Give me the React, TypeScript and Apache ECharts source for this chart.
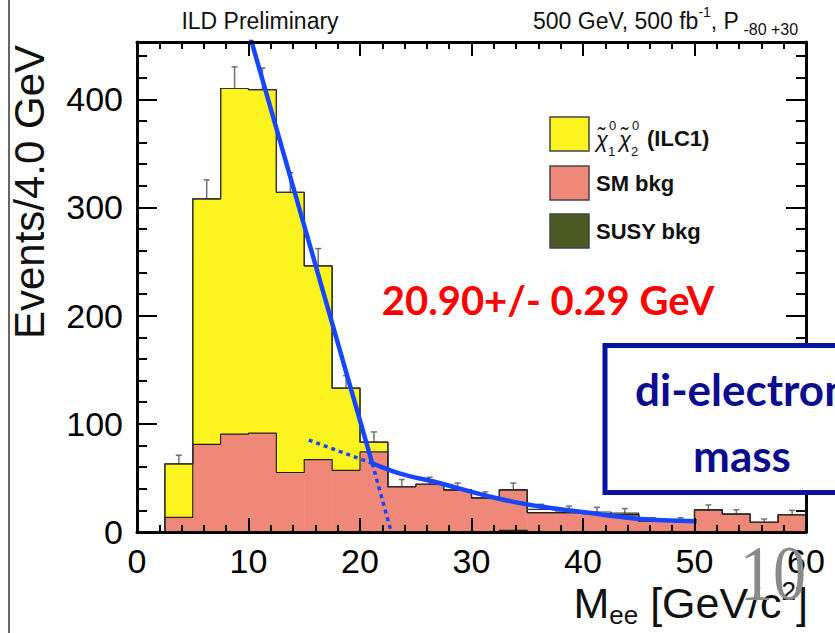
import React, { useEffect, useRef } from 'react';
import * as echarts from 'echarts';

// ---------------- data ----------------
const binLow = [2.5, 5, 7.5, 10, 12.5, 15, 17.5, 20, 22.5, 25, 27.5, 30, 32.5, 35, 37.5, 40, 42.5, 45, 47.5, 50, 52.5, 55, 57.5];
const binWidth = 2.5;
const susyBkg = [0, 0, 0, 0, 0, 0, 0, 0, 0, 0, 0, 0, 1.5, 0, 0, 0, 0, 0, 0, 0, 0, 0, 0];
const smBkg = [13.5, 81, 90.5, 91.5, 55, 67, 57, 74, 42, 44, 39, 31.5, 37.5, 18, 18, 17, 16, 10, 10, 20.5, 16.5, 9, 16];
const signal = [49.5, 227, 319.5, 317.5, 259, 179, 76, 9, 0, 0, 0, 0, 0, 0, 0, 0, 0, 0, 0, 0, 0, 0, 0];
const dataCounts = [63, 308, 410, 409, 314, 246, 133, 83, 42, 44, 39, 31.5, 39, 21, 19.5, 18.5, 17.5, 10, 10, 20.5, 16.5, 9, 16];
const dataErrors = [8, 17.5, 20, 20, 18, 16, 11.5, 9.5, 6.5, 6.6, 6.2, 5.6, 6.2, 4.6, 4.4, 4.3, 4.2, 3.2, 3.2, 4.5, 4.1, 3, 4];

// fit lines
const fitSigX = [10.2, 21.1];
const fitSigY = [456, 63.5];
const fitSigExtX = [21.1, 22.8];
const fitSigExtY = [63.5, 0];
const fitBkgX = [21.1, 23.6, 27, 31.7, 35.3, 40.7, 45.2, 50.2];
const fitBkgY = [63.5, 54, 45.5, 32.6, 25, 17.5, 12, 10];
const fitBkgExtX = [15.4, 21.1];
const fitBkgExtY = [85, 63.5];

// axes
const xMin = 0, xMax = 60, xMajor = 10, xMinor = 2;
const yMin = 0, yMax = 453, yMajor = 100, yMinor = 20;

// labels
const yTitle = 'Events/4.0 GeV';
const legendLabels = ['SM bkg', 'SUSY bkg'];
const fitResult = '20.90+/- 0.29 GeV';

// colors
const C_SIGNAL = '#fcf41e';
const C_SM = '#ef8878';
const C_SUSY = '#4b5a23';
const C_FIT = '#1646ff';
const FONT = 'Liberation Sans, Arial, Helvetica, sans-serif';
const FONT_C = 'Lato, Open Sans, sans-serif';

const txt = (x: number, y: number, text: string, size: number, extra: any = {}, align = 'left') => ({
  type: 'text', z: 100, x, y,
  style: {
    text, fontSize: size, fontFamily: FONT, fill: '#111',
    align, verticalAlign: 'middle', textAlign: align, textVerticalAlign: 'middle',
    ...extra,
  },
});

const App: React.FC = () => {
  const ref = useRef<HTMLDivElement>(null);
  useEffect(() => {
    if (!ref.current) return;
    const chart = echarts.init(ref.current, undefined, { renderer: 'svg' });
    const n = binLow.length;
    const lower1 = susyBkg;
    const lower2 = susyBkg.map((v, i) => v + smBkg[i]);
    const totals = lower2.map((v, i) => v + signal[i]);

    const rectItems = (bottom: number[], top: number[]) =>
      binLow.map((lo, i) => [lo, lo + binWidth, bottom[i], top[i]]);

    const rectRender = (color: string) => (_p: any, api: any) => {
      const lo = api.value(0), hi = api.value(1), b = api.value(2), t = api.value(3);
      if (!(t > b)) return { type: 'group', children: [] };
      const p0 = api.coord([lo, b]);
      const p1 = api.coord([hi, t]);
      return {
        type: 'rect',
        shape: { x: p0[0], y: p1[1], width: p1[0] - p0[0] + 0.6, height: p0[1] - p1[1] },
        style: { fill: color },
      };
    };

    const stepData = (tops: number[]) => {
      const pts: number[][] = [[binLow[0], 0]];
      binLow.forEach((lo, i) => pts.push([lo, tops[i]]));
      pts.push([binLow[n - 1] + binWidth, tops[n - 1]]);
      pts.push([binLow[n - 1] + binWidth, 0]);
      return pts;
    };

    const zip = (xs: number[], ys: number[]) => xs.map((x, i) => [x, ys[i]]);

    const stepSeries = (tops: number[], color: string, width: number) => ({
      type: 'line',
      data: stepData(tops),
      step: 'end',
      symbol: 'none',
      lineStyle: { color, width },
      z: 3,
      silent: true,
    });

    const fillSeries = (bottom: number[], top: number[], color: string) => ({
      type: 'custom',
      renderItem: rectRender(color),
      data: rectItems(bottom, top),
      encode: { x: [0, 1], y: [2, 3] },
      z: 2,
      silent: true,
    });

    const tickCommon = { lineStyle: { color: '#000', width: 2 } };

    const xAxisBase = (position: string, interval: number, len: number, labels: boolean, line: boolean) => ({
      type: 'value', min: xMin, max: xMax, interval, position,
      gridIndex: 0, z: 10,
      axisLine: { show: line, onZero: false, lineStyle: { color: '#000', width: 3 } },
      axisTick: { show: true, inside: true, length: len, ...tickCommon },
      axisLabel: labels
        ? { show: true, fontSize: 34, color: '#000', fontFamily: FONT, margin: 12 }
        : { show: false },
      splitLine: { show: false },
    });
    const yAxisBase = (position: string, interval: number, len: number, labels: boolean, line: boolean) => ({
      type: 'value', min: yMin, max: yMax, interval, position,
      gridIndex: 0, z: 10,
      axisLine: { show: line, onZero: false, lineStyle: { color: '#000', width: 3 } },
      axisTick: { show: true, inside: true, length: len, ...tickCommon },
      axisLabel: labels
        ? { show: true, fontSize: 34, color: '#000', fontFamily: FONT, margin: 14, showMaxLabel: false }
        : { show: false },
      splitLine: { show: false },
    });

    const option: any = {
      animation: false,
      backgroundColor: '#ffffff',
      grid: { left: 137, right: 29, top: 42, bottom: 101 },
      xAxis: [
        xAxisBase('bottom', xMajor, 14, true, true),
        xAxisBase('bottom', xMinor, 7, false, false),
        xAxisBase('top', xMajor, 14, false, true),
        xAxisBase('top', xMinor, 7, false, false),
      ],
      yAxis: [
        yAxisBase('left', yMajor, 20, true, true),
        yAxisBase('left', yMinor, 10, false, false),
        yAxisBase('right', yMajor, 20, false, true),
        yAxisBase('right', yMinor, 10, false, false),
      ],
      series: [
        fillSeries(new Array(n).fill(0), lower1, C_SUSY),
        fillSeries(lower1, lower2, C_SM),
        fillSeries(lower2, totals, C_SIGNAL),
        stepSeries(lower1, '#222', 1.2),
        stepSeries(lower2, '#222', 1.2),
        stepSeries(totals, '#222', 1.2),
        stepSeries(dataCounts, '#333', 1.2),
        {
          type: 'custom',
          z: 3,
          silent: true,
          data: binLow.map((lo, i) => [lo + binWidth / 2, dataCounts[i], dataErrors[i]]),
          encode: { x: 0, y: 1 },
          renderItem: (_p: any, api: any) => {
            const x = api.value(0), y = api.value(1), e = api.value(2);
            const a = api.coord([x, y]);
            const b = api.coord([x, y + e]);
            const st = { stroke: '#707070', lineWidth: 1.5 };
            return {
              type: 'group',
              children: [
                { type: 'line', shape: { x1: a[0], y1: a[1], x2: b[0], y2: b[1] }, style: st },
                { type: 'line', shape: { x1: b[0] - 3, y1: b[1], x2: b[0] + 3, y2: b[1] }, style: st },
              ],
            };
          },
        },
        {
          type: 'line', data: zip(fitSigX, fitSigY), symbol: 'none', z: 5, silent: true,
          lineStyle: { color: C_FIT, width: 4.5 },
        },
        {
          type: 'line', data: zip(fitBkgX, fitBkgY), symbol: 'none', smooth: 0.3, z: 5, silent: true,
          lineStyle: { color: C_FIT, width: 4.5 },
        },
        {
          type: 'line', data: zip(fitSigExtX, fitSigExtY), symbol: 'none', z: 5, silent: true,
          lineStyle: { color: C_FIT, width: 3.5, type: [4, 4] },
        },
        {
          type: 'line', data: zip(fitBkgExtX, fitBkgExtY), symbol: 'none', z: 5, silent: true,
          lineStyle: { color: C_FIT, width: 3.5, type: [4, 4] },
        },
      ],
      graphic: [
        // left page border
        { type: 'line', z: 100, shape: { x1: 9, y1: 0, x2: 9, y2: 633 }, style: { stroke: '#333', lineWidth: 1.5 } },
        // header
        txt(260, 21, 'ILD Preliminary', 23, {}, 'center'),
        {
          type: 'text', z: 100, x: 533, y: 21,
          style: {
            text: '{a|500 GeV, 500 fb}{p|-1}{a|, P}{s| -80 +30}',
            fill: '#111', align: 'left', verticalAlign: 'middle', textAlign: 'left', textVerticalAlign: 'middle',
            rich: {
              a: { fontSize: 23, fontFamily: FONT, lineHeight: 32, verticalAlign: 'middle', fill: '#111', color: '#111' },
              p: { fontSize: 14, fontFamily: FONT, lineHeight: 15, verticalAlign: 'top', fill: '#111', color: '#111' },
              s: { fontSize: 16, fontFamily: FONT, lineHeight: 16, verticalAlign: 'bottom', fill: '#111', color: '#111' },
            },
          },
        },
        // y title
        {
          type: 'text', z: 100, x: 29, y: 192, rotation: Math.PI / 2,
          style: { text: yTitle, fontSize: 42, fontFamily: FONT, fill: '#111', align: 'center', verticalAlign: 'middle', textAlign: 'center', textVerticalAlign: 'middle' },
        },
        // x title
        {
          type: 'text', z: 100, x: 808, y: 603,
          style: {
            text: '{m|M}{s|ee}{m| [GeV/c}{p|2}{m|]}',
            align: 'right', verticalAlign: 'middle', textAlign: 'right', textVerticalAlign: 'middle', fill: '#111',
            rich: {
              m: { fontSize: 43, fontFamily: FONT, lineHeight: 50, verticalAlign: 'middle', fill: '#111', color: '#111' },
              s: { fontSize: 26, fontFamily: FONT, lineHeight: 24, verticalAlign: 'bottom', fill: '#111', color: '#111' },
              p: { fontSize: 26, fontFamily: FONT, lineHeight: 24, verticalAlign: 'top', fill: '#111', color: '#111' },
            },
          },
        },
        // slide number
        {
          type: 'text', z: 101, x: 773, y: 573, scaleX: 0.85,
          style: { text: '10', fontSize: 78, fontFamily: 'Liberation Serif, DejaVu Serif, serif', fill: '#8a8a8a', align: 'center', verticalAlign: 'middle', textAlign: 'center', textVerticalAlign: 'middle' },
        },
        // legend
        { type: 'rect', z: 100, shape: { x: 550, y: 117, width: 39, height: 34 }, style: { fill: C_SIGNAL, stroke: '#444', lineWidth: 1.5 } },
        { type: 'rect', z: 100, shape: { x: 550, y: 166, width: 39, height: 34 }, style: { fill: C_SM, stroke: '#444', lineWidth: 1.5 } },
        { type: 'rect', z: 100, shape: { x: 550, y: 214, width: 39, height: 34 }, style: { fill: C_SUSY, stroke: '#444', lineWidth: 1.5 } },
        txt(596, 139, 'χ̃', 22, { fontStyle: 'italic' }),
        txt(609, 125, '0', 13),
        txt(608, 151, '1', 13),
        txt(619, 139, 'χ̃', 22, { fontStyle: 'italic' }),
        txt(632, 125, '0', 13),
        txt(631, 151, '2', 13),
        txt(647, 138, '(ILC1)', 22, { fontWeight: 'bold' }),
        txt(596, 183, legendLabels[0], 22, { fontWeight: 'bold' }),
        txt(596, 231, legendLabels[1], 22, { fontWeight: 'bold' }),
        // fit result
        txt(548, 300, fitResult, 40, { fontWeight: 'bold', fontFamily: FONT_C, fill: '#ff0000' }, 'center'),
        // di-electron mass box
        { type: 'rect', z: 110, shape: { x: 605, y: 345.5, width: 280, height: 147 }, style: { fill: '#ffffff', stroke: '#0a14a0', lineWidth: 5 } },
        { ...txt(742, 389, 'di-electron', 44, { fontWeight: 'bold', fontFamily: FONT_C, fill: '#0c0c8e' }, 'center'), z: 111 },
        { ...txt(742, 455, 'mass', 44, { fontWeight: 'bold', fontFamily: FONT_C, fill: '#0c0c8e' }, 'center'), z: 111 },
      ],
    };
    chart.setOption(option);
    return () => chart.dispose();
  }, []);
  return <div ref={ref} style={{ width: 835, height: 633, position: 'absolute', left: 0, top: 0 }} />;
};

export default App;
